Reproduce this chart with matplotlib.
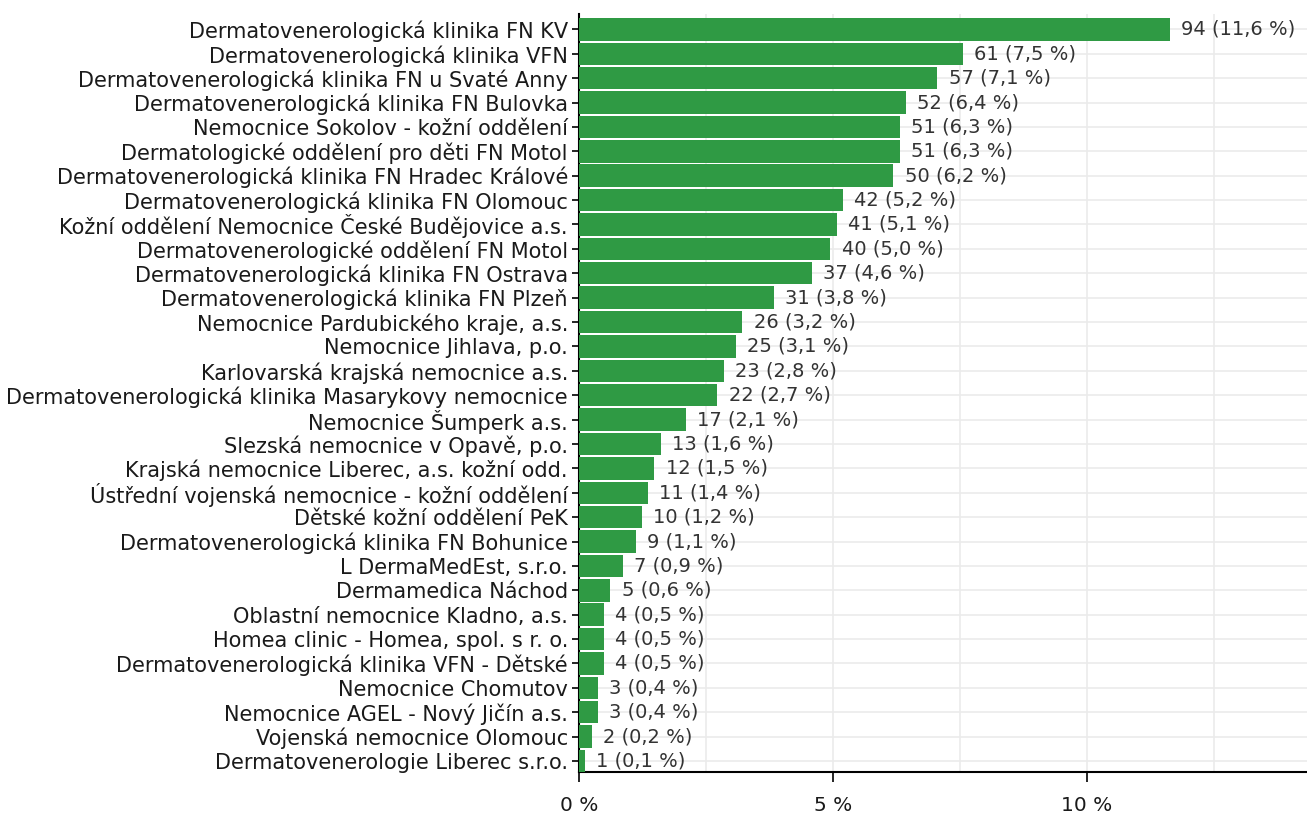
import matplotlib
matplotlib.use("Agg")
import matplotlib.pyplot as plt
from matplotlib.ticker import MultipleLocator, FuncFormatter

plt.rcParams['font.family'] = ['DejaVu Sans']

clinics = [
    "Dermatovenerologická klinika FN KV",
    "Dermatovenerologická klinika VFN",
    "Dermatovenerologická klinika FN u Svaté Anny",
    "Dermatovenerologická klinika FN Bulovka",
    "Nemocnice Sokolov - kožní oddělení",
    "Dermatologické oddělení pro děti FN Motol",
    "Dermatovenerologická klinika FN Hradec Králové",
    "Dermatovenerologická klinika FN Olomouc",
    "Kožní oddělení Nemocnice České Budějovice a.s.",
    "Dermatovenerologické oddělení FN Motol",
    "Dermatovenerologická klinika FN Ostrava",
    "Dermatovenerologická klinika FN Plzeň",
    "Nemocnice Pardubického kraje, a.s.",
    "Nemocnice Jihlava, p.o.",
    "Karlovarská krajská nemocnice a.s.",
    "Dermatovenerologická klinika Masarykovy nemocnice",
    "Nemocnice Šumperk a.s.",
    "Slezská nemocnice v Opavě, p.o.",
    "Krajská nemocnice Liberec, a.s. kožní odd.",
    "Ústřední vojenská nemocnice - kožní oddělení",
    "Dětské kožní oddělení PeK",
    "Dermatovenerologická klinika FN Bohunice",
    "L DermaMedEst, s.r.o.",
    "Dermamedica Náchod",
    "Oblastní nemocnice Kladno, a.s.",
    "Homea clinic - Homea, spol. s r. o.",
    "Dermatovenerologická klinika VFN - Dětské",
    "Nemocnice Chomutov",
    "Nemocnice AGEL - Nový Jičín a.s.",
    "Vojenská nemocnice Olomouc",
    "Dermatovenerologie Liberec s.r.o.",
]
counts = [94, 61, 57, 52, 51, 51, 50, 42, 41, 40, 37, 31, 26, 25, 23, 22,
          17, 13, 12, 11, 10, 9, 7, 5, 4, 4, 4, 3, 3, 2, 1]
percent = [11.6, 7.5, 7.1, 6.4, 6.3, 6.3, 6.2, 5.2, 5.1, 5.0, 4.6, 3.8, 3.2,
           3.1, 2.8, 2.7, 2.1, 1.6, 1.5, 1.4, 1.2, 1.1, 0.9, 0.6, 0.5, 0.5,
           0.5, 0.4, 0.4, 0.2, 0.1]
total = sum(counts)
shares = [c / total * 100 for c in counts]

fig = plt.figure(figsize=(13.07, 8.17), dpi=100)
ax = fig.add_axes([579 / 1307, 45 / 817, 1 - 579 / 1307, (772 - 14) / 817])

ypos = list(range(len(clinics)))
ax.barh(ypos, shares, height=0.92, color='#2f9a44', zorder=3)
for y, s, c, p in zip(ypos, shares, counts, percent):
    ax.text(s + 0.22, y, f"{c} ({p:.1f} %)".replace('.', ','), va='center', ha='left',
            fontsize=14, color='#333333', zorder=4)

ax.set_yticks(ypos)
ax.set_yticklabels(clinics, fontsize=15, color='#1a1a1a')
ax.set_ylim(len(clinics) - 1 + 0.45, -0.63)
ax.set_xlim(0, 14.33)
ax.xaxis.set_major_locator(MultipleLocator(5))
ax.xaxis.set_minor_locator(MultipleLocator(2.5))
ax.xaxis.set_major_formatter(FuncFormatter(lambda v, _: f"{v:.0f} %"))
ax.tick_params(axis='x', which='major', length=7, width=1.2, pad=10, labelsize=14.5, labelcolor='#1a1a1a')
ax.tick_params(axis='x', which='minor', length=0)
ax.tick_params(axis='y', length=5, width=1.2, pad=3)

ax.grid(True, which='major', axis='both', color='#ebebeb', lw=1.2, zorder=0)
ax.grid(True, which='minor', axis='x', color='#ebebeb', lw=1.2, zorder=0)
for side in ['top', 'right']:
    ax.spines[side].set_visible(False)
for side in ['left', 'bottom']:
    ax.spines[side].set_linewidth(1.5)
    ax.spines[side].set_color('black')

fig.savefig('out.png', dpi=100)
